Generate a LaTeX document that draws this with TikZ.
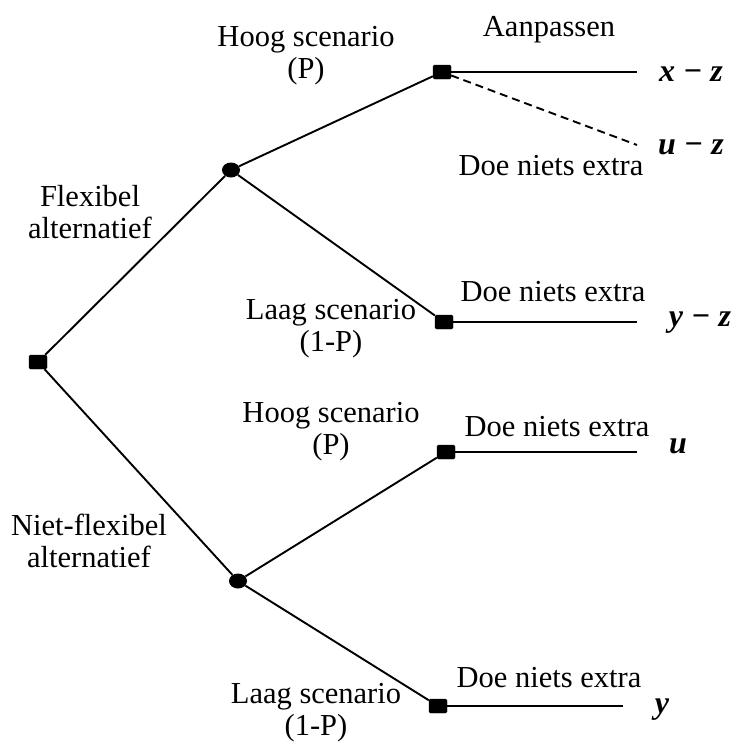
\documentclass[tikz,border=0pt]{standalone}
\usepackage{fontspec}
\setmainfont{Liberation Serif}
\usetikzlibrary{shapes.geometric}
\begin{document}
\begin{tikzpicture}[x=1pt,y=-1pt,
  decision/.style={fill=black,draw=black,rounded corners=1.5pt,minimum width=18pt,minimum height=14pt,inner sep=0pt},
  chance/.style={ellipse,fill=black,minimum width=18pt,minimum height=15pt,inner sep=0pt},
  branch/.style={line width=1.9pt},
  lbl/.style={align=center,inner sep=0pt,font=\fontsize{30.5}{32}\selectfont},
  pay/.style={inner sep=0pt,font=\fontsize{32}{32}\selectfont\bfseries\itshape}]
\useasboundingbox (0,0) rectangle (736,747);

% decision and chance nodes
\node[decision] (root) at (38,362) {};
\node[chance] (c1) at (231,170) {};
\node[chance] (c2) at (238,581) {};
\node[decision] (dA) at (442,72) {};
\node[decision] (dB) at (444,322) {};
\node[decision] (dC) at (446,452) {};
\node[decision] (dD) at (438,706) {};

% branch ends
\coordinate (eA1) at (637,72);
\coordinate (eA2) at (637,145);
\coordinate (eB) at (637,322);
\coordinate (eC) at (637,452);
\coordinate (eD) at (623,706);

% branches
\draw[branch] (root) -- (c1);
\draw[branch] (root) -- (c2);
\draw[branch] (c1) -- (dA);
\draw[branch] (c1) -- (dB);
\draw[branch] (c2) -- (dC);
\draw[branch] (c2) -- (dD);
\draw[branch] (dA.east) -- (eA1);
\draw[branch,dash pattern=on 8pt off 5pt] (dA) -- (eA2);
\draw[branch] (dB.east) -- (eB);
\draw[branch] (dC.east) -- (eC);
\draw[branch] (dD.east) -- (eD);

% branch labels
\node[lbl] (t1) at (306,56) {Hoog scenario\\(P)};
\node[lbl] (t2) at (90,212) {Flexibel\\alternatief};
\node[lbl] (t3) at (331,329) {Laag scenario\\(1-P)};
\node[lbl] (t4) at (331,432) {Hoog scenario\\(P)};
\node[lbl] (t5) at (89,541) {Niet-flexibel\\alternatief};
\node[lbl] (t6) at (316,713) {Laag scenario\\(1-P)};
\node[lbl] (t7) at (549,30) {Aanpassen};
\node[lbl] (t8) at (551,166) {Doe niets extra};
\node[lbl] (t9) at (553,292) {Doe niets extra};
\node[lbl] (t10) at (557,427) {Doe niets extra};
\node[lbl] (t11) at (549,678) {Doe niets extra};

% payoffs
\node[pay] (p1) at (691,74) {x − z};
\node[pay] (p2) at (691,147) {u − z};
\node[pay] (p3) at (700,323) {y − z};
\node[pay] (p4) at (678,446) {u};
\node[pay] (p5) at (662,710) {y};
\end{tikzpicture}
\end{document}
